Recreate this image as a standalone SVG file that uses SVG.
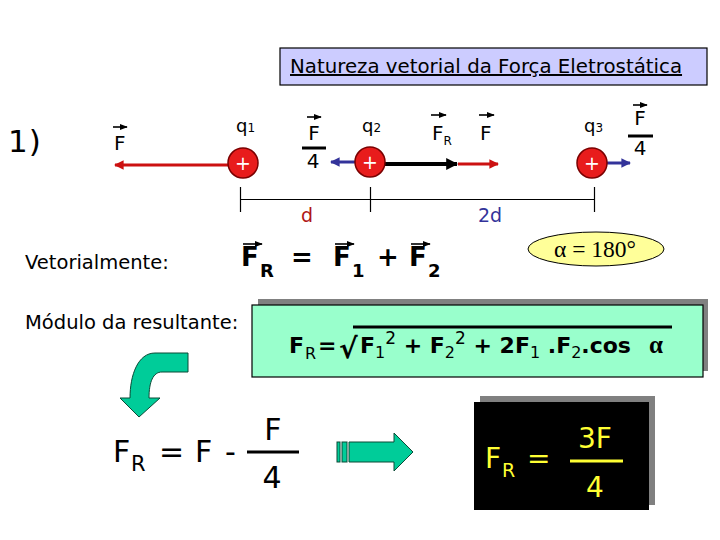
<svg xmlns="http://www.w3.org/2000/svg" width="720" height="540" viewBox="0 0 720 540">
<defs>
<style>
.t{font-family:"DejaVu Sans",Verdana,sans-serif;fill:#000}
.b{font-family:"DejaVu Sans",Verdana,sans-serif;font-weight:bold;fill:#000}
.vec{stroke:#000;stroke-width:1.6;fill:none}
.chg{fill:#e81c1c;stroke:#7a0000;stroke-width:1.5}
.plus{font-family:"DejaVu Sans",sans-serif;font-size:19px;fill:#fff;text-anchor:middle}
.grn{fill:#00cc99;stroke:#0b4a36;stroke-width:1}
.y{font-family:"DejaVu Sans",sans-serif;fill:#ffff33}
</style>
<marker id="hv" viewBox="0 0 10 10" refX="9" refY="5" markerWidth="5" markerHeight="5" orient="auto"><path d="M0,1 L10,5 L0,9 Z" fill="#000"/></marker>
<marker id="hr" viewBox="0 0 10 10" refX="9" refY="5" markerWidth="3.2" markerHeight="3.2" orient="auto"><path d="M0,0 L10,5 L0,10 Z" fill="#cc1111"/></marker>
<marker id="hb" viewBox="0 0 10 10" refX="9" refY="5" markerWidth="3.2" markerHeight="3.2" orient="auto"><path d="M0,0 L10,5 L0,10 Z" fill="#33339a"/></marker>
<marker id="hk" viewBox="0 0 10 10" refX="9" refY="5" markerWidth="3" markerHeight="3" orient="auto"><path d="M0,0 L10,5 L0,10 Z" fill="#000"/></marker>
</defs>
<rect width="720" height="540" fill="#fff"/>

<g id="title">
<rect x="280" y="48" width="427" height="37" fill="#ccccff" stroke="#000" stroke-width="1.2"/>
<text class="t" x="290" y="73" font-size="19.8" text-decoration="underline">Natureza vetorial da Força Eletrostática</text>
</g>

<text class="t" x="8" y="152" font-size="31" letter-spacing="1">1)</text>

<g id="connectors">
<line x1="228" y1="165" x2="115" y2="165" stroke="#cc1111" stroke-width="3" marker-end="url(#hr)"/>
<line x1="356" y1="162" x2="331" y2="162" stroke="#33339a" stroke-width="3" marker-end="url(#hb)"/>
<line x1="384" y1="164" x2="457" y2="164" stroke="#000" stroke-width="4" marker-end="url(#hk)"/>
<line x1="458" y1="164" x2="498" y2="164" stroke="#cc1111" stroke-width="3" marker-end="url(#hr)"/>
<line x1="606" y1="163" x2="630" y2="163" stroke="#33339a" stroke-width="3" marker-end="url(#hb)"/>
</g>

<g id="q1">
<circle class="chg" cx="243" cy="163" r="15"/>
<text class="plus" x="243" y="170">+</text>
<text class="t" x="236" y="132" font-size="18">q<tspan font-size="12">1</tspan></text>
</g>
<g id="q2">
<circle class="chg" cx="370" cy="162" r="15"/>
<text class="plus" x="370" y="169">+</text>
<text class="t" x="362" y="132" font-size="18">q<tspan font-size="12">2</tspan></text>
</g>
<g id="q3">
<circle class="chg" cx="592" cy="163" r="15"/>
<text class="plus" x="592" y="170">+</text>
<text class="t" x="584" y="132" font-size="18">q<tspan font-size="12">3</tspan></text>
</g>

<g id="labels">
<line class="vec" x1="113" y1="127" x2="127" y2="127" marker-end="url(#hv)"/>
<text class="t" x="114" y="150" font-size="20">F</text>

<line class="vec" x1="307" y1="117" x2="321" y2="117" marker-end="url(#hv)"/>
<text class="t" x="314" y="140" font-size="20" text-anchor="middle">F</text>
<line x1="302" y1="148" x2="326" y2="148" stroke="#000" stroke-width="3"/>
<text class="t" x="313" y="168" font-size="20" text-anchor="middle">4</text>

<line class="vec" x1="431" y1="115" x2="446" y2="115" marker-end="url(#hv)"/>
<text class="t" x="432" y="140" font-size="20">F<tspan font-size="12" dy="5">R</tspan></text>
<line class="vec" x1="479" y1="115" x2="494" y2="115" marker-end="url(#hv)"/>
<text class="t" x="480" y="140" font-size="20">F</text>

<line class="vec" x1="633" y1="105" x2="647" y2="105" marker-end="url(#hv)"/>
<text class="t" x="640" y="125" font-size="20" text-anchor="middle">F</text>
<line x1="628" y1="136" x2="653" y2="136" stroke="#000" stroke-width="3"/>
<text class="t" x="640" y="155" font-size="20" text-anchor="middle">4</text>
</g>

<g id="dimension" stroke="#000" stroke-width="1.2">
<line x1="240" y1="199.5" x2="594" y2="199.5"/>
<line x1="240.5" y1="187" x2="240.5" y2="212"/>
<line x1="370.5" y1="187" x2="370.5" y2="212"/>
<line x1="594.5" y1="187" x2="594.5" y2="212"/>
</g>
<text class="t" x="307" y="222" font-size="19" text-anchor="middle" style="fill:#b01515">d</text>
<text class="t" x="490" y="222" font-size="19" text-anchor="middle" style="fill:#33339a">2d</text>

<text class="t" x="25" y="269" font-size="19.5">Vetorialmente:</text>

<g id="vector-eq">
<line class="vec" x1="243" y1="244" x2="262" y2="244" marker-end="url(#hv)"/>
<text class="b" x="241" y="266" font-size="26">F</text>
<text class="b" x="260" y="277" font-size="18">R</text>
<text class="b" x="291" y="266" font-size="26">=</text>
<line class="vec" x1="335" y1="244" x2="354" y2="244" marker-end="url(#hv)"/>
<text class="b" x="333" y="266" font-size="26">F</text>
<text class="b" x="352" y="277" font-size="18">1</text>
<text class="b" x="377" y="266" font-size="26">+</text>
<line class="vec" x1="411" y1="244" x2="430" y2="244" marker-end="url(#hv)"/>
<text class="b" x="409" y="266" font-size="26">F</text>
<text class="b" x="428" y="277" font-size="18">2</text>
</g>

<g id="alpha">
<ellipse cx="596" cy="249" rx="68" ry="17" fill="#ffff99" stroke="#000" stroke-width="1"/>
<text x="595" y="257" font-family="'Liberation Serif','Times New Roman',serif" font-size="23.5" text-anchor="middle">α = 180°</text>
</g>

<text class="t" x="25" y="329" font-size="19.5">Módulo da resultante:</text>

<g id="modulus">
<rect x="258" y="299" width="450" height="72" fill="#808080"/>
<rect x="252" y="305" width="451" height="72" fill="#99ffcc" stroke="#000" stroke-width="1.2"/>
<text class="b" x="289" y="353" font-size="22">F</text>
<text class="t" x="305" y="359" font-size="16">R</text>
<text class="b" x="318" y="353" font-size="22">=</text>
<text class="b" x="339" y="358" font-size="28">√</text>
<line x1="353" y1="327" x2="672" y2="327" stroke="#000" stroke-width="3"/>
<text class="b" x="360" y="353" font-size="22">F<tspan font-weight="normal" font-size="16" dy="5">1</tspan><tspan font-weight="normal" font-size="17" dy="-14">2</tspan><tspan dy="9"> + F</tspan><tspan font-weight="normal" font-size="16" dy="5">2</tspan><tspan font-weight="normal" font-size="17" dy="-14">2</tspan><tspan dy="9"> +  2F</tspan><tspan font-weight="normal" font-size="16" dy="5">1</tspan><tspan dy="-5"> .F</tspan><tspan font-weight="normal" font-size="16" dy="5">2</tspan><tspan dy="-5">.cos</tspan></text>
<text x="649" y="353" font-family="'Liberation Serif',serif" font-weight="bold" font-size="25">α</text>
</g>

<g id="arrow-bent">
<path class="grn" d="M188,353 L155,353 C138,353 130,375 130,398 L120,398 L139,417 L160,398 L149,398 C149,382 153,372 162,372 L188,372 Z"/>
</g>

<g id="result1">
<text class="t" x="113" y="462" font-size="30">F</text>
<text class="t" x="131" y="471" font-size="21">R</text>
<text class="t" x="159" y="462" font-size="30">=</text>
<text class="t" x="195" y="462" font-size="30">F</text>
<text class="t" x="225" y="462" font-size="30">-</text>
<line x1="247" y1="452" x2="299" y2="452" stroke="#000" stroke-width="3"/>
<text class="t" x="273" y="440" font-size="30" text-anchor="middle">F</text>
<text class="t" x="272" y="488" font-size="30" text-anchor="middle">4</text>
</g>

<g id="arrow-straight">
<rect class="grn" x="337" y="442" width="3" height="20"/>
<rect class="grn" x="342" y="442" width="5" height="20"/>
<path class="grn" d="M349,442 L394,442 L394,433 L413,452 L394,471 L394,462 L349,462 Z"/>
</g>

<g id="result2">
<rect x="480" y="396" width="175" height="109" fill="#808080"/>
<rect x="474" y="402" width="175" height="108" fill="#000"/>
<text class="y" x="485" y="468" font-size="28">F</text>
<text class="y" x="502" y="477" font-size="19">R</text>
<text class="y" x="527" y="468" font-size="28">=</text>
<text class="y" x="595" y="448" font-size="28" text-anchor="middle">3F</text>
<line x1="570" y1="461" x2="623" y2="461" stroke="#ffff33" stroke-width="3"/>
<text class="y" x="595" y="497" font-size="28" text-anchor="middle">4</text>
</g>
</svg>
